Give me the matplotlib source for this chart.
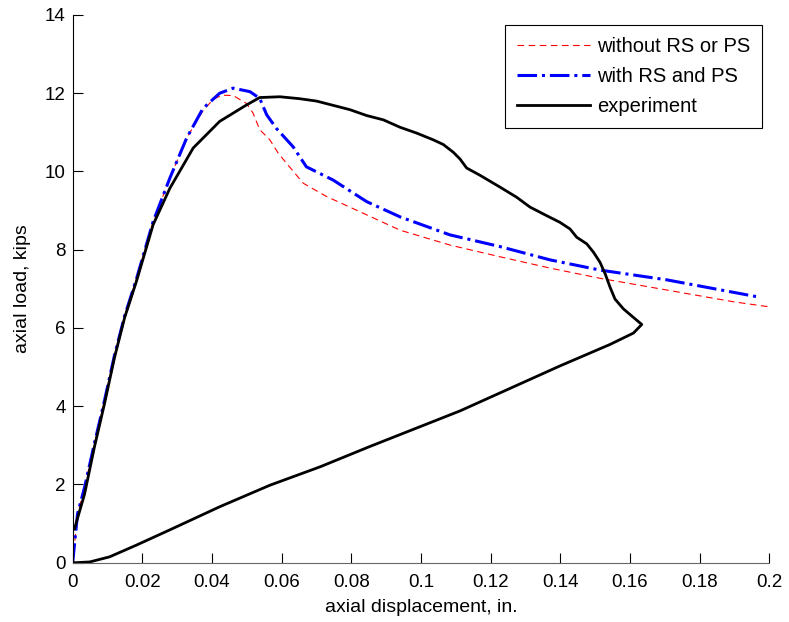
import matplotlib
matplotlib.use("Agg")
import matplotlib.pyplot as plt
import numpy as np

plt.rcParams["font.family"] = ["Liberation Sans", "DejaVu Sans"]

# without RS or PS (red dashed)
x_nors = [0.0, 0.0014, 0.0034, 0.0062, 0.0091, 0.0120, 0.0149, 0.0183, 0.0231, 0.0279, 0.0327,
          0.0374, 0.0404, 0.0430, 0.0461, 0.0499, 0.0518, 0.0537, 0.0566, 0.0590, 0.0614,
          0.0662, 0.0729, 0.0825, 0.0940, 0.1083, 0.1227, 0.1371, 0.1514, 0.1706, 0.1897, 0.2000]
y_nors = [0.0, 1.25, 1.92, 3.03, 4.13, 5.30, 6.30, 7.25, 8.72, 9.83, 10.85,
          11.55, 11.85, 11.95, 11.94, 11.74, 11.49, 11.07, 10.81, 10.47, 10.21,
          9.70, 9.36, 8.97, 8.50, 8.12, 7.82, 7.53, 7.27, 6.97, 6.67, 6.54]

# with RS and PS (blue dash-dot)
x_rs = [0.0, 0.0014, 0.0034, 0.0062, 0.0091, 0.0120, 0.0149, 0.0183, 0.0231, 0.0279, 0.0327,
        0.0374, 0.0422, 0.0461, 0.0509, 0.0537, 0.0557, 0.0585, 0.0633, 0.0671, 0.0748,
        0.0844, 0.0940, 0.1083, 0.1227, 0.1371, 0.1514, 0.1706, 0.1964]
y_rs = [0.0, 1.25, 1.92, 3.03, 4.13, 5.30, 6.30, 7.25, 8.72, 9.83, 10.85,
        11.61, 12.00, 12.13, 12.04, 11.87, 11.45, 11.10, 10.63, 10.12, 9.78,
        9.23, 8.84, 8.38, 8.08, 7.74, 7.48, 7.23, 6.80]

# experiment (black solid): loading, peak, softening, then unloading back to zero
x_exp = [0.0005, 0.0034, 0.0062, 0.0091, 0.0120, 0.0149, 0.0183, 0.0231, 0.0279, 0.0346,
         0.0422, 0.0499, 0.0537, 0.0595, 0.0652, 0.0700, 0.0748, 0.0796, 0.0844, 0.0892,
         0.0940, 0.0988, 0.1035, 0.1064, 0.1093, 0.1112, 0.1131, 0.1170, 0.1227, 0.1275,
         0.1313, 0.1361, 0.1399, 0.1428, 0.1447, 0.1476, 0.1495, 0.1514, 0.1529, 0.1543,
         0.1557, 0.1581, 0.1610, 0.1634, 0.1610, 0.1543, 0.1399, 0.1112, 0.0853, 0.0710,
         0.0566, 0.0422, 0.0279, 0.0183, 0.0106, 0.0049, 0.0006]
y_exp = [0.86, 1.75, 2.94, 4.05, 5.24, 6.26, 7.19, 8.64, 9.57, 10.60,
         11.28, 11.70, 11.89, 11.91, 11.86, 11.80, 11.69, 11.58, 11.43, 11.32,
         11.13, 10.98, 10.81, 10.69, 10.49, 10.32, 10.09, 9.90, 9.60, 9.34,
         9.09, 8.87, 8.70, 8.53, 8.32, 8.15, 7.94, 7.68, 7.38, 7.04,
         6.74, 6.49, 6.27, 6.09, 5.87, 5.58, 5.03, 3.88, 2.97, 2.45,
         1.98, 1.43, 0.84, 0.45, 0.15, 0.02, 0.0]

fig = plt.figure(figsize=(7.89, 6.22), dpi=100)
ax = fig.add_axes([0.0921, 0.0953, 0.8829, 0.8806])

ax.plot(x_nors, y_nors, color="red", lw=0.8, dashes=(6, 4), label="without RS or PS")
ax.plot(x_rs, y_rs, "-.", color="blue", lw=2.2, label="with RS and PS")
ax.plot(x_exp, y_exp, "-", color="black", lw=2.0, label="experiment")

ax.set_xlim(0, 0.2)
ax.set_ylim(0, 14)
ax.set_xticks(np.arange(0, 0.201, 0.02))
ax.set_xticklabels(["0", "0.02", "0.04", "0.06", "0.08", "0.1", "0.12", "0.14", "0.16", "0.18", "0.2"])
ax.set_yticks(range(0, 15, 2))
ax.spines["top"].set_visible(False)
ax.spines["right"].set_visible(False)
ax.spines["bottom"].set_color("0.4")
ax.tick_params(axis="x", direction="in", labelsize=13.5, length=7, pad=8)
ax.tick_params(axis="y", direction="in", labelsize=13.5, length=7, pad=5)
ax.set_xlabel("axial displacement, in.", fontsize=14, labelpad=6)
ax.set_ylabel("axial load, kips", fontsize=14, labelpad=10)

leg = ax.legend(loc="upper right", fontsize=14.5, fancybox=False, framealpha=1,
                edgecolor="black", handlelength=3.6, handletextpad=0.35,
                borderpad=0.6, labelspacing=0.55, borderaxespad=0,
                bbox_to_anchor=(0.9895, 0.9817))
leg.get_frame().set_linewidth(0.8)

fig.savefig("out.png", dpi=100)
